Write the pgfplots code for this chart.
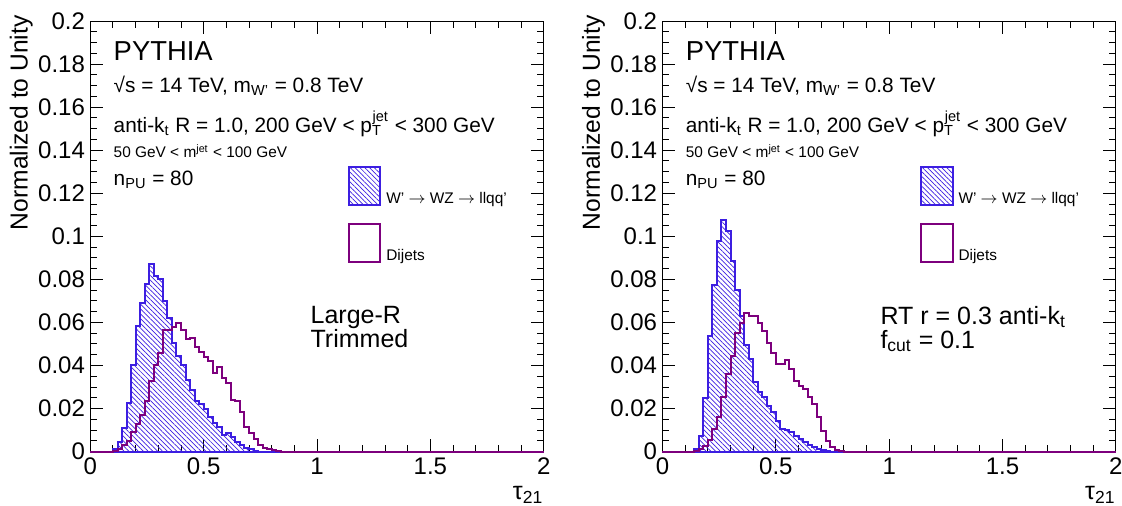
\documentclass[border=0pt]{standalone}
\usepackage{fontspec}
\setmainfont{Liberation Sans}
\usepackage{pgfplots}
\pgfplotsset{compat=1.18}
\usetikzlibrary{patterns.meta,calc}
\definecolor{wblue}{RGB}{60,30,225}
\definecolor{dpurple}{RGB}{125,0,125}
\newcommand{\fs}[1]{\fontsize{#1}{#1}\selectfont}
\pgfplotsset{
  panel/.style={
    scale only axis, width=226.65pt, height=215.25pt,
    xmin=0, xmax=2, ymin=0, ymax=0.2,
    xtick={0,0.5,1,1.5,2},
    ytick={0,0.02,0.04,0.06,0.08,0.1,0.12,0.14,0.16,0.18,0.2},
    scaled y ticks=false, scaled x ticks=false,
    yticklabel style={/pgf/number format/fixed},
    minor x tick num=4, minor y tick num=3,
    major tick length=6.3pt, minor tick length=3.3pt,
    tick align=inside,
    every tick/.style={black, line width=0.5pt},
    axis line style={line width=0.5pt},
    tick label style={font=\fs{12}},
    /pgf/number format/assume math mode=true,
    yticklabel style={inner sep=0pt, xshift=-2.5pt},
    xticklabel style={inner sep=0pt, yshift=-2.75pt},
    ylabel={Normalized to Unity},
    ylabel style={font=\fs{12.3}, at={(axis description cs:-0.126,1.014)}, anchor=south east, inner sep=0pt},
    xlabel={τ\textsubscript{21}},
    xlabel style={font=\fs{12.5}, at={(axis description cs:1,-0.08)}, anchor=north east, inner sep=0pt},
    legend style={draw=none, fill=none, at={(axis cs:1.138,0.1326)}, anchor=north west,
      inner sep=0pt, outer sep=0pt, font=\fs{7.7}, row sep=8pt, column sep=2.5pt,
      nodes={inner sep=0pt}},
    legend cell align=left,
    legend image code/.code={\draw[#1] (0pt,-2.75pt) rectangle (15.5pt,16.25pt);},
    clip=false,
  },
  sig/.style={const plot, draw=wblue, line width=1pt,
    pattern={Lines[angle=-45,distance=1.7pt,line width=0.35pt]}, pattern color=wblue},
  bkg/.style={const plot, draw=dpurple, line width=1pt},
}
\newcommand{\infotext}{%
  \node[anchor=base west, inner sep=0pt, font=\fs{13.7}] at (axis cs:0.1015,0.1817) {PYTHIA};
  \node[anchor=base west, inner sep=0pt, font=\fs{10.4}] at (axis cs:0.1015,0.1670) {√s = 14 TeV, m\textsubscript{W'} = 0.8 TeV};
  \node[anchor=base west, inner sep=0pt, font=\fs{10.4}] at (axis cs:0.1015,0.1484) {anti-k\textsubscript{t} R = 1.0, 200 GeV < p\textsubscript{T}\hspace{-0.45em}\raisebox{0.3ex}{\textsuperscript{jet}} < 300 GeV};
  \node[anchor=base west, inner sep=0pt, font=\fs{7.7}] at (axis cs:0.1015,0.1365) {50 GeV < m\textsuperscript{jet} < 100 GeV};
  \node[anchor=base west, inner sep=0pt, font=\fs{10.4}] at (axis cs:0.1015,0.1237) {n\textsubscript{PU} = 80};
}
\begin{document}
\begin{tikzpicture}
\begin{axis}[panel, name=left]
\addplot[sig] coordinates {(0,0) (0.10,0.0011) (0.12,0.0047) (0.14,0.0109) (0.16,0.0225) (0.18,0.0403) (0.20,0.0584) (0.22,0.069) (0.24,0.078) (0.26,0.087) (0.28,0.0817) (0.30,0.080) (0.32,0.0698) (0.34,0.062) (0.36,0.0504) (0.38,0.0442) (0.40,0.0403) (0.42,0.0333) (0.44,0.0287) (0.46,0.0233) (0.48,0.0222) (0.50,0.0197) (0.52,0.0163) (0.54,0.0135) (0.56,0.0116) (0.58,0.0078) (0.60,0.0085) (0.62,0.007) (0.64,0.0047) (0.66,0.0031) (0.68,0.0016) (0.70,0.001) (0.72,0.0005) (0.74,0) (2,0)} \closedcycle;
\addlegendentry{W' $\rightarrow$ WZ $\rightarrow$ llqq'}
\addplot[bkg] coordinates {(0,0) (0.10,0.0003) (0.12,0.0011) (0.14,0.0031) (0.16,0.0051) (0.18,0.0093) (0.20,0.0129) (0.22,0.0171) (0.24,0.0233) (0.26,0.0326) (0.28,0.0403) (0.30,0.0457) (0.32,0.0566) (0.34,0.0563) (0.36,0.0578) (0.38,0.0597) (0.40,0.0566) (0.42,0.0522) (0.44,0.0527) (0.46,0.0485) (0.48,0.0465) (0.50,0.0439) (0.52,0.0419) (0.54,0.0364) (0.56,0.0392) (0.58,0.0341) (0.60,0.0318) (0.62,0.024) (0.64,0.0233) (0.66,0.0186) (0.68,0.0116) (0.70,0.0085) (0.72,0.0057) (0.74,0.0031) (0.76,0.0016) (0.78,0.0011) (0.80,0.0006) (0.82,0.0003) (0.84,0) (2,0)};
\addlegendentry{Dijets}
\infotext
\node[anchor=north west, inner sep=0pt, align=left, font=\fontsize{12.5}{12}\selectfont] at (axis cs:0.97,0.0677) {Large-R\\Trimmed};
\end{axis}
\begin{axis}[panel, name=right, xshift=286pt]
\addplot[sig] coordinates {(0,0) (0.14,0.0012) (0.16,0.0074) (0.18,0.025) (0.20,0.0535) (0.22,0.0775) (0.24,0.098) (0.26,0.1074) (0.28,0.1025) (0.30,0.0885) (0.32,0.0749) (0.34,0.0632) (0.36,0.0493) (0.38,0.0431) (0.40,0.0322) (0.42,0.0276) (0.44,0.0253) (0.46,0.0214) (0.48,0.0183) (0.50,0.0144) (0.52,0.0105) (0.54,0.0101) (0.56,0.009) (0.58,0.0074) (0.60,0.0059) (0.62,0.0043) (0.64,0.0031) (0.66,0.002) (0.68,0.0012) (0.70,0.0008) (0.72,0.0005) (0.74,0) (2,0)} \closedcycle;
\addlegendentry{W' $\rightarrow$ WZ $\rightarrow$ llqq'}
\addplot[bkg] coordinates {(0,0) (0.14,0.0005) (0.16,0.0012) (0.18,0.0028) (0.20,0.0054) (0.22,0.0105) (0.24,0.0163) (0.26,0.0253) (0.28,0.0361) (0.30,0.0446) (0.32,0.055) (0.34,0.0597) (0.36,0.0643) (0.38,0.0632) (0.40,0.0628) (0.42,0.0597) (0.44,0.056) (0.46,0.0504) (0.48,0.0457) (0.50,0.0408) (0.52,0.0408) (0.54,0.0426) (0.56,0.0384) (0.58,0.033) (0.60,0.0307) (0.62,0.0291) (0.64,0.0253) (0.66,0.0219) (0.68,0.016) (0.70,0.0098) (0.72,0.0051) (0.74,0.002) (0.76,0.0008) (0.78,0.0005) (0.80,0) (2,0)};
\addlegendentry{Dijets}
\infotext
\node[anchor=north west, inner sep=0pt, align=left, font=\fontsize{12.5}{12}\selectfont] at (axis cs:0.96,0.0677) {RT r = 0.3 anti-k\textsubscript{t}\\f\textsubscript{cut} = 0.1};
\end{axis}
\pgfresetboundingbox
\path[use as bounding box] ($(left.south west)+(-45.15pt,-26.75pt)$) rectangle ($(right.north east)+(3.05pt,10.5pt)$);
\end{tikzpicture}
\end{document}
